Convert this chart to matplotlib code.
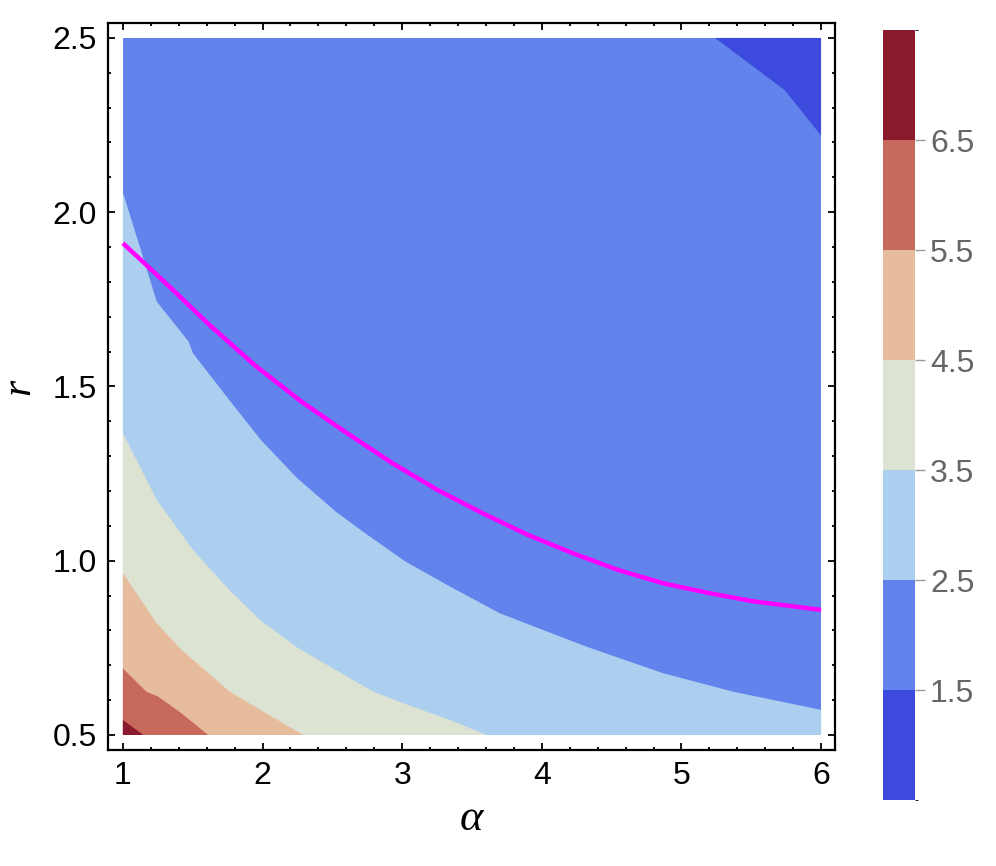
import numpy as np
import matplotlib.pyplot as plt
from matplotlib.colors import ListedColormap, BoundaryNorm
from matplotlib.cm import ScalarMappable
from matplotlib.ticker import MultipleLocator

# ======================
# DATA
# ======================
levels = [0.5, 1.5, 2.5, 3.5, 4.5, 5.5, 6.5, 7.5]
colors = ["#3d4ade", "#6282ec", "#accfef", "#dce3d3", "#e6bc9c", "#c8695e", "#8c1a2e"]
cbar_ticks = [1.5, 2.5, 3.5, 4.5, 5.5, 6.5]

# contour boundaries (alpha, r)
c15_x = [5.24, 5.74, 6.0]
c15_y = [2.5, 2.35, 2.22]

c25_x = [1.0, 1.243, 1.470, 1.502, 1.762, 1.989, 2.248, 2.524, 2.734, 3.026, 3.342, 3.70, 4.322, 4.870, 5.372, 6.0]
c25_y = [2.057, 1.743, 1.629, 1.595, 1.461, 1.346, 1.237, 1.141, 1.079, 0.997, 0.926, 0.849, 0.753, 0.677, 0.624, 0.572]

c35_x = [1.0, 1.243, 1.502, 1.762, 1.981, 2.256, 2.794, 3.008, 3.342, 3.605]
c35_y = [1.366, 1.174, 1.031, 0.916, 0.830, 0.749, 0.624, 0.591, 0.543, 0.5]

c45_x = [1.0, 1.241, 1.420, 1.766, 2.005, 2.292]
c45_y = [0.964, 0.821, 0.744, 0.624, 0.567, 0.5]

c55_x = [1.0, 1.169, 1.253, 1.420, 1.611]
c55_y = [0.691, 0.624, 0.610, 0.562, 0.5]

c65_x = [1.0, 1.146]
c65_y = [0.543, 0.5]

# magenta curve
curve_x = [1.0, 1.308, 1.632, 1.956, 2.280, 2.605, 2.929, 3.253, 3.577, 3.901,
           4.225, 4.549, 4.873, 5.198, 5.522, 6.0]
curve_y = [1.911, 1.796, 1.672, 1.557, 1.456, 1.366, 1.280, 1.203, 1.136, 1.074,
           1.021, 0.973, 0.935, 0.907, 0.883, 0.859]

x_min, x_max = 1.0, 6.0
y_min, y_max = 0.5, 2.5

# ======================
# FIGURE
# ======================
plt.rcParams['font.family'] = ['Liberation Sans', 'DejaVu Sans']
fig = plt.figure(figsize=(9.96, 8.66), dpi=100)
ax = fig.add_axes([0.1084, 0.134, 0.73, 0.8395])

# background band (1.5 - 2.5)
ax.fill([x_min, x_max, x_max, x_min], [y_min, y_min, y_max, y_max], color=colors[1], lw=0)

# top-right dark blue corner (< 1.5)
ax.fill(c15_x + [x_max], c15_y + [y_max], color=colors[0], lw=0)

# regions below each boundary, painted from low to high level
bounds = [(c25_x, c25_y), (c35_x, c35_y), (c45_x, c45_y), (c55_x, c55_y), (c65_x, c65_y)]
for k, (bx, by) in enumerate(bounds):
    px = [x_min] + bx + ([x_max] if bx[-1] == x_max else [])
    py = [y_min] + by + ([y_min] if bx[-1] == x_max else [])
    ax.fill(px, py, color=colors[k + 2], lw=0)

ax.plot(curve_x, curve_y, color="#ff00ff", lw=3.2, solid_capstyle="butt", solid_joinstyle="round")

ax.set_xlim(0.893, 6.1)
ax.set_ylim(0.457, 2.543)
ax.xaxis.set_major_locator(MultipleLocator(1))
ax.xaxis.set_minor_locator(MultipleLocator(0.2))
ax.yaxis.set_major_locator(MultipleLocator(0.5))
ax.yaxis.set_minor_locator(MultipleLocator(0.1))
ax.tick_params(which="both", direction="in", top=True, right=True, width=1.3, color="black")
ax.tick_params(which="major", length=5, labelsize=23, pad=8)
ax.tick_params(which="minor", length=2.5)
for s in ax.spines.values():
    s.set_linewidth(1.6)

ax.set_xlabel("α", fontsize=32, family="Liberation Serif", style="italic", labelpad=6)
ax.set_ylabel("r", fontsize=30, family="Liberation Serif", style="italic", labelpad=10)

# ======================
# COLORBAR
# ======================
cax = fig.add_axes([0.8865, 0.0762, 0.032, 0.889])
cmap = ListedColormap(colors)
norm = BoundaryNorm(levels, cmap.N)
cb = fig.colorbar(ScalarMappable(norm=norm, cmap=cmap), cax=cax, ticks=cbar_ticks)
cb.outline.set_visible(False)
cb.ax.tick_params(length=7, width=1, color="#999999", labelsize=23, labelcolor="#666666", pad=4)
cb.ax.set_yticklabels([str(t) for t in cbar_ticks])

fig.savefig("out.png", dpi=100)
